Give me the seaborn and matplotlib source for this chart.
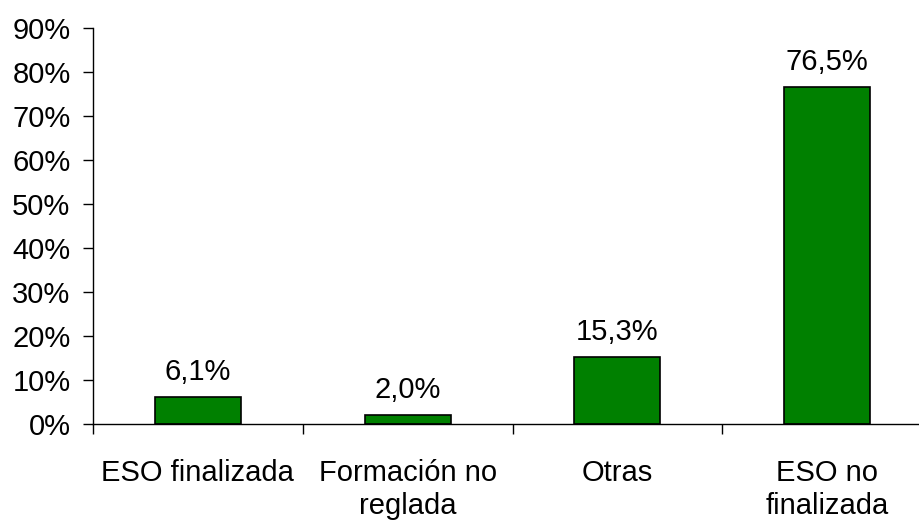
import numpy as np
import pandas as pd
import seaborn as sns
from matplotlib import pyplot as plt
from matplotlib.ticker import FixedLocator, PercentFormatter

categories = ["ESO finalizada", "Formación no\nreglada", "Otras", "ESO no\nfinalizada"]
values = [6.1, 2.0, 15.3, 76.5]
value_labels = ["6,1%", "2,0%", "15,3%", "76,5%"]

df = pd.DataFrame({"categoria": categories, "valor": values})

sns.set_style("white")
plt.rcParams["font.family"] = ["Liberation Sans", "DejaVu Sans"]
plt.rcParams["text.color"] = "black"
plt.rcParams["xtick.color"] = "black"
plt.rcParams["ytick.color"] = "black"
plt.rcParams["xtick.labelcolor"] = "black"
plt.rcParams["ytick.labelcolor"] = "black"
plt.rcParams["ytick.left"] = True
plt.rcParams["xtick.bottom"] = True

fig = plt.figure(figsize=(9.19, 5.22), dpi=100)
ax = fig.add_axes([93 / 919, 98 / 522, 839 / 919, 396 / 522])

sns.barplot(data=df, x="categoria", y="valor", color="#008000",
            saturation=1, width=0.41, edgecolor="black", linewidth=1.2, ax=ax)

ax.set_xlim(-0.5, 3.5)
ax.set_ylim(0, 90)
ax.set_yticks(np.arange(0, 91, 10))
ax.yaxis.set_major_formatter(PercentFormatter(decimals=0))
ax.xaxis.set_minor_locator(FixedLocator([-0.5, 0.5, 1.5, 2.5, 3.5]))

for spine in ["top", "right"]:
    ax.spines[spine].set_visible(False)
for spine in ["left", "bottom"]:
    ax.spines[spine].set_color("black")
    ax.spines[spine].set_linewidth(1.0)

# tick lengths given in points (10 px at 100 dpi ~ 7.2 pt)
ax.tick_params(axis="y", which="major", direction="out", length=7.2, width=1,
               color="black", labelcolor="black", labelsize=21, pad=9, left=True)
ax.tick_params(axis="x", which="major", length=0, labelsize=21, pad=25,
               labelcolor="black")
ax.tick_params(axis="x", which="minor", direction="out", length=7.2, width=1,
               color="black", bottom=True)
for lbl in ax.get_xticklabels():
    lbl.set_linespacing(1.25)

for i, (v, txt) in enumerate(zip(values, value_labels)):
    ax.annotate(txt, (i, v), xytext=(0, 8), textcoords="offset points",
                ha="center", va="bottom", fontsize=21, color="black")

ax.set_xlabel("")
ax.set_ylabel("")
ax.set_facecolor("white")
for child in ax.patches:
    child.set_clip_on(False)

fig.savefig("out.png", dpi=100, facecolor="white")
